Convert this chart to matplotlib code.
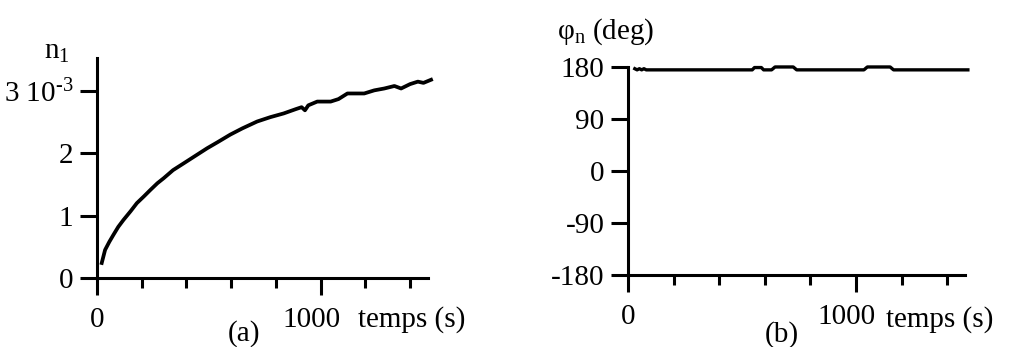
import matplotlib
matplotlib.use('Agg')
import matplotlib.pyplot as plt
from matplotlib.transforms import ScaledTranslation

plt.rcParams['font.family'] = ['Liberation Serif', 'DejaVu Serif']
plt.rcParams['font.size'] = 21
plt.rcParams['mathtext.default'] = 'regular'

# (a) n1 (units of 1e-3) versus time
t_a = [21, 36, 55, 73, 95, 118, 150, 178, 210, 238, 270, 298, 340, 388, 440,
       492, 540, 596, 650, 716, 775, 835, 890, 915, 930, 945, 985, 1045, 1080,
       1120, 1195, 1240, 1285, 1330, 1360, 1400, 1435, 1460, 1494]
n1_a = [0.24, 0.45, 0.58, 0.69, 0.82, 0.93, 1.07, 1.20, 1.31, 1.41, 1.52,
        1.60, 1.73, 1.84, 1.96, 2.08, 2.18, 2.30, 2.40, 2.51, 2.58, 2.64, 2.71,
        2.74, 2.69, 2.77, 2.83, 2.83, 2.87, 2.96, 2.96, 3.01, 3.04, 3.08, 3.04,
        3.11, 3.15, 3.13, 3.18]

# (b) phase (deg) versus time
t_b = [30, 40, 50, 60, 70, 80, 96, 545, 555, 585, 595, 630, 645, 725, 740,
       1035, 1050, 1150, 1165, 1491]
phi_b = [177, 175, 177, 175, 177, 175, 175, 175, 179, 179, 175, 175, 180,
         180, 175, 175, 180, 180, 175, 175]

x_major = [0, 1000]
x_minor = [200, 400, 600, 800, 1200, 1400]


def style_axis(ax):
    for side in ['top', 'right']:
        ax.spines[side].set_visible(False)
    for side in ['left', 'bottom']:
        ax.spines[side].set_linewidth(2.2)
    ax.set_xticks(x_major)
    ax.set_xticks(x_minor, minor=True)
    ax.set_xticklabels(['0', '1000'])
    ax.tick_params(axis='x', which='major', direction='out', length=12,
                   width=2.2, pad=9)
    ax.tick_params(axis='x', which='minor', direction='out', length=7,
                   width=2.2)
    ax.tick_params(axis='y', direction='out', length=12, width=2.2, pad=5)
    ax.set_xlim(0, 1480)
    # the "1000" label sits a little left of its tick
    lab = ax.get_xticklabels()[1]
    lab.set_transform(lab.get_transform() +
                      ScaledTranslation(-0.09, 0, fig.dpi_scale_trans))


fig = plt.figure(figsize=(10.15, 3.47), dpi=100)

ax1 = fig.add_axes([0.0956, 0.199, 0.326, 0.634])
ax1.plot(t_a, n1_a, color='black', lw=2.7, clip_on=False)
style_axis(ax1)
ax1.set_ylim(0, 3.53)
ax1.set_yticks([0, 1, 2, 3])
ax1.set_yticklabels(['0', '1', '2', '3 10$^{\u2010 3}$'])
fig.text(0.056, 0.85, '$n_1$', ha='center', va='center')
fig.text(0.353, 0.0576, 'temps (s)', ha='left', va='baseline')
fig.text(0.240, 0.040, '(a)', ha='center', va='center')

ax2 = fig.add_axes([0.6187, 0.2075, 0.3324, 0.5995])
ax2.plot(t_b, phi_b, color='black', lw=2.4, clip_on=False)
style_axis(ax2)
ax2.set_ylim(-180, 180)
ax2.set_yticks([-180, -90, 0, 90, 180])
ax2.set_yticklabels(['-180', '-90', '0', '90', '180'])
fig.text(0.597, 0.908, '$\\varphi_n$ (deg)', ha='center', va='center')
fig.text(0.873, 0.0576, 'temps (s)', ha='left', va='baseline')
fig.text(0.770, 0.035, '(b)', ha='center', va='center')

fig.savefig('out.png', dpi=100)
